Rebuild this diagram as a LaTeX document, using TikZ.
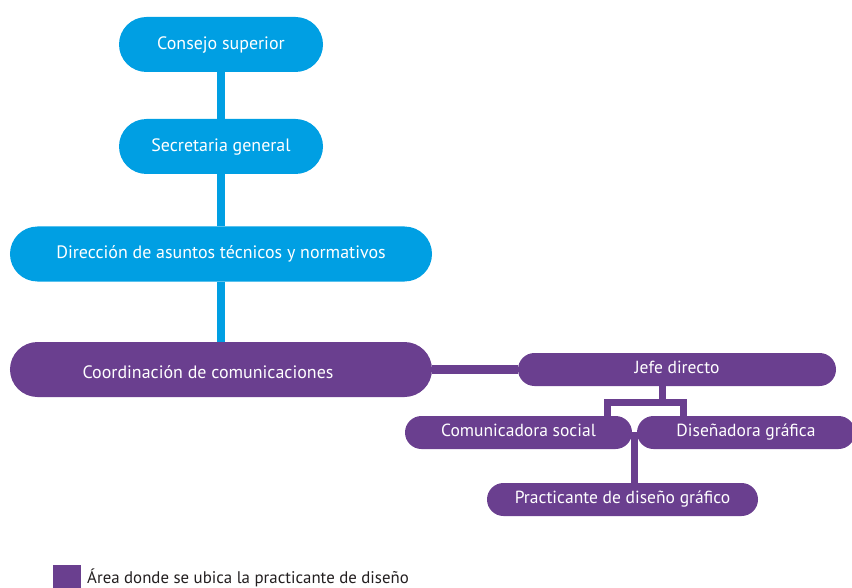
\documentclass[tikz,border=0pt]{standalone}
\usepackage{fontspec}
\setmainfont{PT Sans}
\definecolor{cblue}{HTML}{009FE3}
\definecolor{cpurple}{HTML}{6A3F8F}
\definecolor{ctext}{HTML}{231F20}
\usetikzlibrary{backgrounds}
\tikzset{
  bbox/.style={fill=cblue, text=white, rounded corners=27.5bp, minimum height=55bp, inner sep=0pt, text height=0.98em, text depth=0pt, font=\fontsize{18}{21}\selectfont},
  pbig/.style={fill=cpurple, text=white, rounded corners=27.5bp, minimum height=55bp, inner sep=0pt, text height=0.98em, text depth=0pt, font=\fontsize{18}{21}\selectfont},
  psmall/.style={fill=cpurple, text=white, rounded corners=16.5bp, minimum height=33bp, inner sep=0pt, text height=0.88em, text depth=0pt, font=\fontsize{17.6}{20}\selectfont},
  bline/.style={draw=cblue, line width=8bp},
  pline/.style={draw=cpurple, line width=9bp},
  sline/.style={draw=cpurple, line width=7bp, line join=miter},
}
\begin{document}
\begin{tikzpicture}[x=1bp, y=-1bp]
\useasboundingbox (0,0) rectangle (852,588);
\clip (0,0) rectangle (852,588);
% blue column
\node[bbox, minimum width=204bp] (cons) at (221,44.5) {Consejo superior};
\node[bbox, minimum width=204bp] (secr) at (221,146.5) {Secretaria general};
\node[bbox, minimum width=422bp] (dir) at (221,254) {Dirección de asuntos técnicos y normativos};
\node[pbig, minimum width=422bp] (coord) at (221,369.5) {\raisebox{-4bp}{Coordinación de comunicaciones}\hspace*{26bp}};
% purple group
\node[psmall, minimum width=318bp] (jefe) at (677,369.5) {Jefe directo};
\node[psmall, minimum width=227bp] (com) at (518.5,432.5) {Comunicadora social};
\node[psmall, minimum width=218bp] (dis) at (746,432.5) {Diseñadora gráfica};
\node[psmall, minimum width=271bp] (prac) at (622.5,499.5) {Practicante de diseño gráfico};
% legend
\node[fill=cpurple, minimum width=28bp, minimum height=28bp, inner sep=0pt] (legsq) at (67,579) {};
\node[anchor=base west, text=ctext, inner sep=0pt, font=\fontsize{16.9}{20}\selectfont] (legtxt) at (87,583) {Área donde se ubica la practicante de diseño};
% connectors
\coordinate (j1) at (662,402);
\coordinate (bl) at (607,402);
\coordinate (br) at (683,402);
\coordinate (mid) at (634.5,432);
\begin{pgfonlayer}{background}
\draw[bline] (cons.south) -- (secr.north);
\draw[bline] (secr.south) -- (dir.north);
\draw[bline] (dir.south) -- (coord.north);
\draw[pline] (coord.east) -- (jefe.west);
\draw[sline] (jefe.south -| j1) -- (j1);
\draw[sline] (com.north -| bl) -- (bl) -- (br) -- (dis.north -| br);
\draw[sline] (mid) -- (prac.north -| mid);
\end{pgfonlayer}
\end{tikzpicture}
\end{document}
